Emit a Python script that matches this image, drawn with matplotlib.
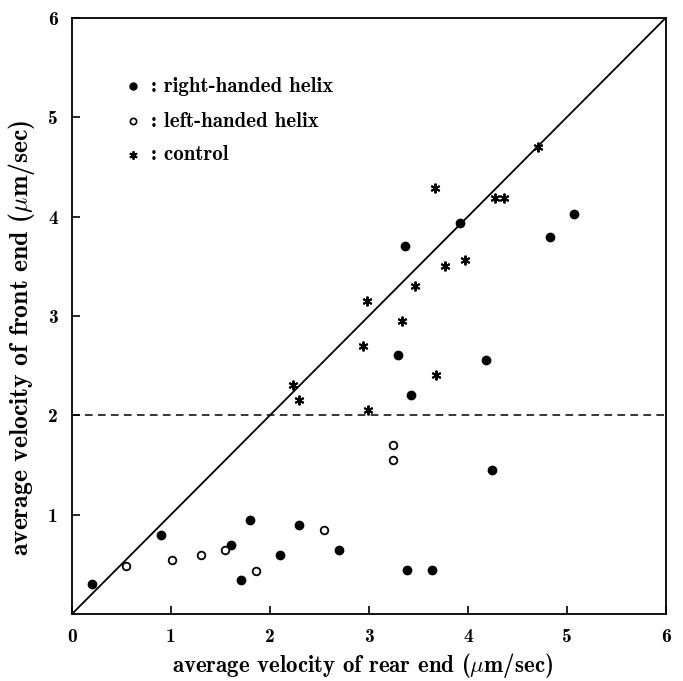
import matplotlib
matplotlib.use("Agg")
import matplotlib.pyplot as plt
import numpy as np

# Computer Modern bold ships with matplotlib
plt.rcParams['font.family'] = ['cmb10', 'DejaVu Serif']
plt.rcParams['mathtext.fontset'] = 'cm'
plt.rcParams['axes.unicode_minus'] = False

# right-handed helix (filled circles)
right_x = [0.20, 0.90, 1.61, 1.71, 1.80, 2.10, 2.30, 2.70, 3.29, 3.37, 3.39, 3.43,
           3.64, 3.92, 4.18, 4.24, 4.83, 5.07]
right_y = [0.30, 0.80, 0.70, 0.34, 0.95, 0.60, 0.90, 0.65, 2.61, 3.70, 0.45, 2.21,
           0.45, 3.94, 2.56, 1.45, 3.79, 4.03]

# left-handed helix (open circles)
left_x = [0.55, 1.01, 1.31, 1.55, 1.86, 2.55, 3.24, 3.24]
left_y = [0.49, 0.55, 0.60, 0.65, 0.44, 0.85, 1.70, 1.55]

# control (asterisks)
ctrl_x = [2.23, 2.29, 2.94, 2.98, 2.99, 3.33, 3.47, 3.67, 3.68, 3.77, 3.97, 4.27,
          4.37, 4.71]
ctrl_y = [2.31, 2.16, 2.70, 3.15, 2.05, 2.95, 3.30, 4.29, 2.41, 3.50, 3.56, 4.19,
          4.19, 4.70]

ticks = [0, 1, 2, 3, 4, 5, 6]
threshold = 2.0

fig = plt.figure(figsize=(6.83, 6.81), dpi=100)
ax = fig.add_axes([0.105, 0.098, 0.870, 0.876])

ax.plot([0, 6], [0, 6], color='black', lw=1.3)
ax.axhline(threshold, color='black', lw=1.1, ls=(0, (5, 3.5)))

ax.plot(right_x, right_y, 'o', color='black', ms=6, ls='none')
ax.plot(left_x, left_y, 'o', mfc='white', mec='black', mew=1.3, ms=5.5, ls='none')
ax.plot(ctrl_x, ctrl_y, marker=(6, 2, 0), color='black', mew=1.4, ms=7, ls='none')

# key
key_y = [5.31, 4.96, 4.62]
ax.plot([0.62], [key_y[0]], 'o', color='black', ms=5)
ax.plot([0.62], [key_y[1]], 'o', mfc='white', mec='black', mew=1.2, ms=4.5)
ax.plot([0.62], [key_y[2]], marker=(6, 2, 0), color='black', mew=1.3, ms=6)
labels = [': right-handed helix', ': left-handed helix', ': control']
for yy, lab in zip(key_y, labels):
    ax.text(0.80, yy, lab, fontsize=15, va='center', ha='left')

ax.set_xlim(0, 6)
ax.set_ylim(0, 6)
ax.set_xticks(ticks)
ax.set_yticks(ticks[1:])
ax.set_xticklabels([str(t) for t in ticks], fontsize=14)
ax.set_yticklabels([str(t) for t in ticks[1:]], fontsize=14)
ax.tick_params(direction='in', length=6, width=1.2, pad=10)
for s in ax.spines.values():
    s.set_linewidth(1.3)

ax.set_xlabel(r'average velocity of rear end ($\mu$m/sec)', fontsize=16.5)
ax.set_ylabel(r'average velocity of front end ($\mu$m/sec)', fontsize=18.5)
ax.xaxis.set_label_coords(0.489, -0.062)
ax.yaxis.set_label_coords(-0.058, 0.463)

fig.savefig('out.png', dpi=100)
